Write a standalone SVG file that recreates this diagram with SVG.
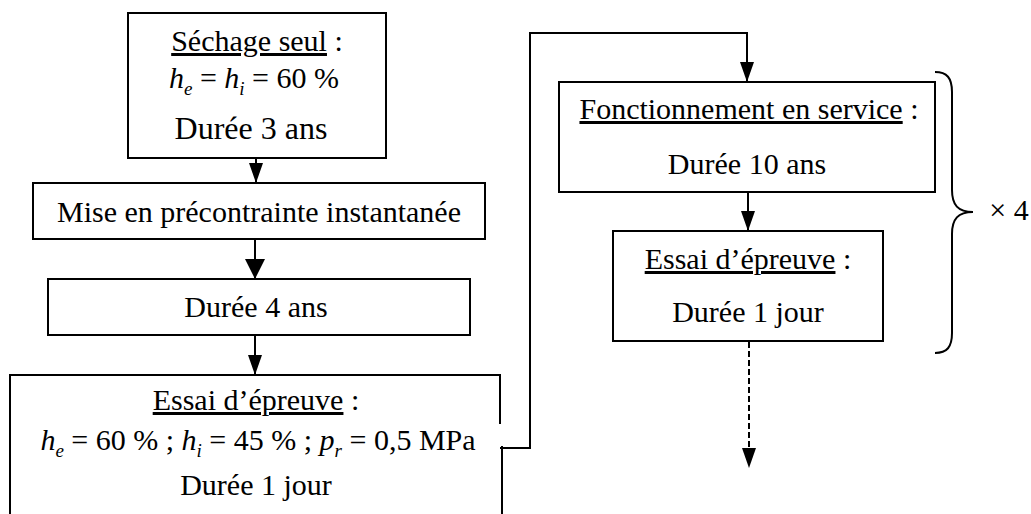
<svg xmlns="http://www.w3.org/2000/svg" width="1031" height="514" viewBox="0 0 1031 514">
<defs>
<style>
.box{fill:#fff;stroke:#000;stroke-width:2}
.t{font-family:"Liberation Serif","Times New Roman",serif;font-size:30px;fill:#000;text-anchor:middle}
.i{font-style:italic}
.s{font-style:italic;font-size:19px}
.u{text-decoration:underline}
.ln{fill:none;stroke:#000;stroke-width:2}
.dash{stroke-dasharray:6 3}
</style>
<marker id="ah" markerUnits="userSpaceOnUse" markerWidth="20" markerHeight="14" refX="20" refY="7" orient="auto" viewBox="0 0 20 14">
<path d="M0,0 L20,7 L0,14 Z" fill="#000"/>
</marker>
<marker id="ahb" markerUnits="userSpaceOnUse" markerWidth="20" markerHeight="20" refX="20" refY="10" orient="auto" viewBox="0 0 20 20">
<path d="M0,0 L20,10 L0,20 Z" fill="#000"/>
</marker>
</defs>
<rect width="1031" height="514" fill="#fff"/>

<g id="connectors">
<line class="ln" x1="256" y1="158" x2="256" y2="183" marker-end="url(#ah)"/>
<line class="ln" x1="255" y1="239" x2="255" y2="279" marker-end="url(#ahb)"/>
<line class="ln" x1="255" y1="335" x2="255" y2="375" marker-end="url(#ah)"/>
<path class="ln" d="M500,448 H530 V33 H747 V82" marker-end="url(#ah)"/>
<line class="ln" x1="748" y1="192" x2="748" y2="231" marker-end="url(#ah)"/>
<line class="ln dash" x1="749" y1="342" x2="749" y2="468" marker-end="url(#ah)"/>
</g>

<g id="n1">
<rect class="box" x="128" y="13" width="258" height="145"/>
<text class="t" x="257" y="51"><tspan class="u">Séchage seul</tspan> :</text>
<text class="t" x="254" y="88"><tspan class="i">h</tspan><tspan class="s" dy="7">e</tspan><tspan dy="-7"> = </tspan><tspan class="i">h</tspan><tspan class="s" dy="7">i</tspan><tspan dy="-7"> = 60 %</tspan></text>
<text class="t" x="251" y="139" style="font-size:32px">Durée 3 ans</text>
</g>

<g id="n2">
<rect class="box" x="33" y="183" width="452" height="56"/>
<text class="t" x="259" y="222">Mise en précontrainte instantanée</text>
</g>

<g id="n3">
<rect class="box" x="48" y="279" width="422" height="56"/>
<text class="t" x="256" y="317">Durée 4 ans</text>
</g>

<g id="n4">
<path class="box" d="M10,530 V375 H500 V424 M502,446 V530"/>
<text class="t" x="256" y="410"><tspan class="u">Essai d’épreuve</tspan> :</text>
<text class="t" x="258" y="450"><tspan class="i">h</tspan><tspan class="s" dy="7">e</tspan><tspan dy="-7"> = 60 % ; </tspan><tspan class="i">h</tspan><tspan class="s" dy="7">i</tspan><tspan dy="-7"> = 45 %  ; </tspan><tspan class="i">p</tspan><tspan class="s" dy="7">r</tspan><tspan dy="-7"> = 0,5 MPa</tspan></text>
<text class="t" x="256" y="495">Durée 1 jour</text>
</g>

<g id="n5">
<rect class="box" x="559" y="82" width="376" height="110"/>
<text class="t" x="749" y="119"><tspan class="u">Fonctionnement en service</tspan> :</text>
<text class="t" x="747" y="174">Durée 10 ans</text>
</g>

<g id="n6">
<rect class="box" x="613" y="231" width="270" height="110"/>
<text class="t" x="748" y="269"><tspan class="u">Essai d’épreuve</tspan> :</text>
<text class="t" x="748" y="322">Durée 1 jour</text>
</g>

<g id="brace">
<path class="ln" d="M935,72 C947,72 952,78 952,92 V190 C952,205 958,212 973,212 C958,212 952,219 952,234 V333 C952,347 947,353 935,353"/>
<text class="t" x="1009" y="220">× 4</text>
</g>
</svg>
